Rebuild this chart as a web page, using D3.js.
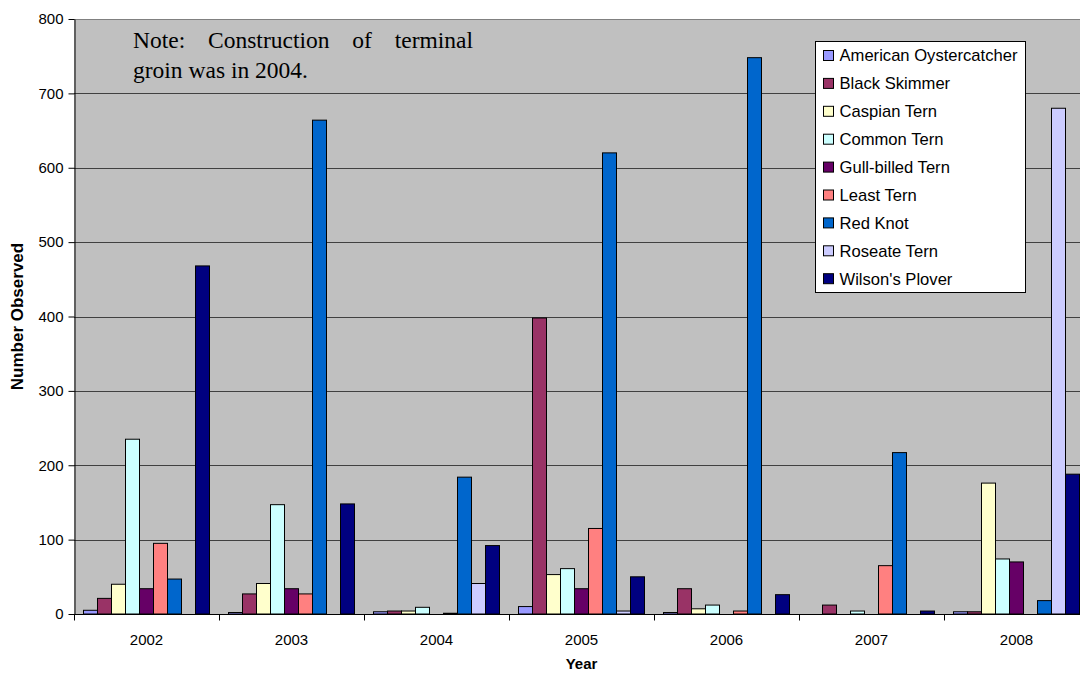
<!DOCTYPE html>
<html>
<head>
<meta charset="utf-8">
<script src="https://cdn.jsdelivr.net/npm/d3@7"></script>
<style>
  html, body { margin: 0; padding: 0; background: #fff; }
  svg { display: block; }
</style>
</head>
<body>
<svg id="chart"></svg>
<script>
const years = ['2002', '2003', '2004', '2005', '2006', '2007', '2008'];
const species = ['American Oystercatcher', 'Black Skimmer', 'Caspian Tern', 'Common Tern',
  'Gull-billed Tern', 'Least Tern', 'Red Knot', 'Roseate Tern', "Wilson's Plover"];
const speciesColors = ['#9999ff', '#993366', '#ffffcc', '#ccffff', '#660066',
  '#ff8080', '#0066cc', '#ccccff', '#000080'];

// counts per species, one value per year (2002..2008)
const americanOystercatcher = [5, 2, 3, 10, 2, 0, 3];
const blackSkimmer = [21, 27, 4, 398, 34, 12, 3];
const caspianTern = [40, 41, 4, 53, 7, 0, 176];
const commonTern = [235, 147, 9, 61, 12, 4, 74];
const gullBilledTern = [34, 34, 0, 34, 0, 0, 70];
const leastTern = [95, 27, 1, 115, 4, 65, 0];
const redKnot = [47, 664, 184, 620, 748, 217, 18];
const roseateTern = [0, 0, 41, 4, 0, 0, 680];
const wilsonsPlover = [468, 148, 92, 50, 26, 4, 188];
const seriesValues = [americanOystercatcher, blackSkimmer, caspianTern, commonTern,
  gullBilledTern, leastTern, redKnot, roseateTern, wilsonsPlover];

const yTicks = [0, 100, 200, 300, 400, 500, 600, 700, 800];

const width = 1080;
const height = 673;
const margin = { top: 19, right: -9, bottom: 59, left: 74 };

const svg = d3.select('#chart').attr('width', width).attr('height', height);

const x = d3.scaleBand()
  .domain(years)
  .range([margin.left, width - margin.right])
  .padding(0);

const xs = d3.scaleBand()
  .domain(species)
  .range([9.5, x.bandwidth() - 9.5])
  .padding(0);

const y = d3.scaleLinear()
  .domain([0, 800])
  .range([height - margin.bottom, margin.top]);

// plot background
svg.append('rect')
  .attr('x', margin.left)
  .attr('y', margin.top)
  .attr('width', width - margin.right - margin.left)
  .attr('height', y(0) - margin.top)
  .attr('fill', '#c0c0c0');

// gridlines
svg.append('g')
  .selectAll('line')
  .data(yTicks.filter(d => d > 0))
  .join('line')
  .attr('x1', margin.left)
  .attr('x2', width - margin.right)
  .attr('y1', d => Math.round(y(d)) + 0.5)
  .attr('y2', d => Math.round(y(d)) + 0.5)
  .attr('stroke', d => d === 800 ? '#808080' : '#404040')
  .attr('stroke-width', 1);

// bars
const groups = svg.append('g')
  .selectAll('g')
  .data(years)
  .join('g')
  .attr('transform', d => `translate(${x(d)},0)`);

groups.selectAll('rect')
  .data((yr, i) => species.map((s, j) => ({ s, j, v: seriesValues[j][i] })).filter(d => d.v > 0))
  .join('rect')
  .attr('x', d => xs(d.s))
  .attr('y', d => y(d.v))
  .attr('width', xs.bandwidth())
  .attr('height', d => y(0) - y(d.v))
  .attr('fill', d => speciesColors[d.j])
  .attr('stroke', '#000')
  .attr('stroke-width', 1);

// axes
const yAxis = svg.append('g')
  .attr('transform', `translate(${margin.left + 0.5},0)`)
  .call(d3.axisLeft(y).tickValues(yTicks).tickSize(6).tickSizeOuter(0).tickPadding(5));
yAxis.select('.domain').attr('stroke', '#000');
yAxis.selectAll('text')
  .style('font-family', 'Liberation Sans, Arial, sans-serif')
  .style('font-size', '15px')
  .attr('fill', '#000');

const xAxisG = svg.append('g')
  .attr('transform', `translate(0,${Math.round(y(0)) + 0.5})`);
xAxisG.append('line')
  .attr('x1', margin.left).attr('x2', width - margin.right)
  .attr('stroke', '#000');
xAxisG.selectAll('line.tick')
  .data(years.concat(['end']))
  .join('line')
  .attr('class', 'tick')
  .attr('x1', (d, i) => Math.round(margin.left + i * x.bandwidth()) + 0.5)
  .attr('x2', (d, i) => Math.round(margin.left + i * x.bandwidth()) + 0.5)
  .attr('y1', 0).attr('y2', 6)
  .attr('stroke', '#000');
xAxisG.selectAll('text')
  .data(years)
  .join('text')
  .attr('x', d => x(d) + x.bandwidth() / 2)
  .attr('y', 30)
  .attr('text-anchor', 'middle')
  .style('font-family', 'Liberation Sans, Arial, sans-serif')
  .style('font-size', '15px')
  .text(d => d);

// axis titles
svg.append('text')
  .attr('x', (margin.left + width - margin.right) / 2)
  .attr('y', 669)
  .attr('text-anchor', 'middle')
  .style('font-family', 'Liberation Sans, Arial, sans-serif')
  .style('font-size', '15px')
  .style('font-weight', 'bold')
  .text('Year');

svg.append('text')
  .attr('transform', `translate(23,${(margin.top + y(0)) / 2}) rotate(-90)`)
  .attr('text-anchor', 'middle')
  .style('font-family', 'Liberation Sans, Arial, sans-serif')
  .style('font-size', '17px')
  .style('font-weight', 'bold')
  .text('Number Observed');

// note (justified first line)
const noteFont = 'Liberation Serif, Times New Roman, serif';
const noteLeft = 133, noteRight = 473;
const line1 = ['Note:', 'Construction', 'of', 'terminal'];
const noteG = svg.append('g')
  .style('font-family', noteFont)
  .style('font-size', '23.5px')
  .attr('fill', '#000');
const words = noteG.selectAll('text.w')
  .data(line1)
  .join('text')
  .attr('class', 'w')
  .attr('y', 48)
  .text(d => d);
const widths = [];
words.each(function () { widths.push(this.getComputedTextLength()); });
const gap = (noteRight - noteLeft - d3.sum(widths)) / (line1.length - 1);
let cx = noteLeft;
words.attr('x', (d, i) => { const p = cx; cx += widths[i] + gap; return p; });
noteG.append('text')
  .attr('x', noteLeft)
  .attr('y', 78)
  .text('groin was in 2004.');

// legend
const legend = svg.append('g').attr('transform', 'translate(815.5,41.5)');
legend.append('rect')
  .attr('width', 210)
  .attr('height', 251)
  .attr('fill', '#fff')
  .attr('stroke', '#000')
  .attr('stroke-width', 1);
const rows = legend.selectAll('g.row')
  .data(species)
  .join('g')
  .attr('class', 'row')
  .attr('transform', (d, i) => `translate(0,${14 + i * 27.9})`);
rows.append('rect')
  .attr('x', 8)
  .attr('y', -5)
  .attr('width', 10)
  .attr('height', 10)
  .attr('fill', (d, i) => speciesColors[i])
  .attr('stroke', '#000');
rows.append('text')
  .attr('x', 24)
  .attr('dy', '0.35em')
  .style('font-family', 'Liberation Sans, Arial, sans-serif')
  .style('font-size', '16.6px')
  .text(d => d);
</script>
</body>
</html>
